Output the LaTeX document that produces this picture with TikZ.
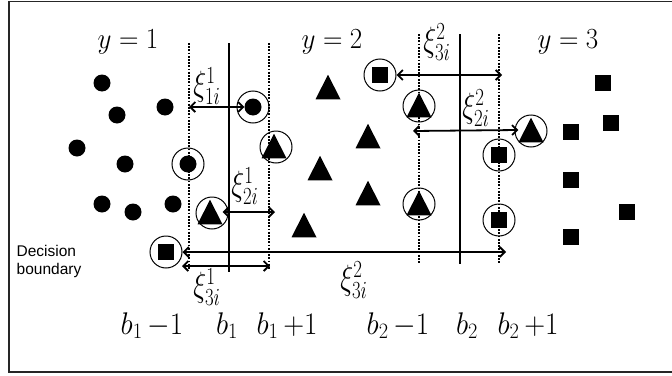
\RequirePackage{fix-cm}
\documentclass[tikz,border=0pt]{standalone}
\usepackage{fontspec}
\newfontfamily\labelsans{Liberation Sans}
\usetikzlibrary{arrows.meta}
\tikzset{
  dot/.style={circle, fill, inner sep=0, minimum size=17},
  sq/.style={rectangle, fill, inner sep=0, minimum size=16.5},
  tri/.style={rectangle, inner sep=0, minimum width=25, minimum height=24.5,
    path picture={\fill (path picture bounding box.south west) -- (path picture bounding box.south east) -- (path picture bounding box.north) -- cycle;}},
  ring/.style={circle, draw, line width=1, inner sep=0, minimum size=32},
  dotl/.style={line width=2.4, dash pattern=on 1.8pt off 1.4pt},
  soll/.style={line width=2},
  dbl/.style={line width=1.8, {Straight Barb[length=5pt,width=10pt]}-{Straight Barb[length=5pt,width=10pt]}},
  ylab/.style={font=\fontsize{27}{31}\selectfont, inner sep=0, anchor=base, yscale=1.08},
  blab/.style={font=\fontsize{29}{33}\selectfont, inner sep=0, anchor=base, yscale=1.08},
  xlab/.style={font=\fontsize{27}{31}\selectfont, inner sep=0, yscale=1.3},
}
\begin{document}
\begin{tikzpicture}[x=1pt,y=-1pt]
\useasboundingbox (0,0) rectangle (672,375);
\draw[line width=1.5, black!85] (672,1.5) -- (9,1.5) -- (9,372) -- (672,372);

% class labels
\node[ylab] (y1) at (128,48) {$y=1$};
\node[ylab] (y2) at (332,48) {$y=2$};
\node[ylab] (y3) at (568,48) {$y=3$};

% margin lines
\draw[dotl] (189,43) coordinate (p1t) -- (189,270) coordinate (p1b);
\draw[soll] (229,43) coordinate (s1t) -- (229,272) coordinate (s1b);
\draw[dotl] (269,43) coordinate (q1t) -- (269,270) coordinate (q1b);
\draw[dotl] (419,34) coordinate (p2t) -- (419,263) coordinate (p2b);
\draw[soll] (460,34) coordinate (s2t) -- (460,264) coordinate (s2b);
\draw[dotl] (499,34) coordinate (q2t) -- (499,263) coordinate (q2b);

% class 1 points
\node[dot] (d1) at (102,83) {};
\node[dot] (d2) at (117,115) {};
\node[dot] (d3) at (165,107) {};
\node[dot] (d4) at (77,148) {};
\node[dot] (d5) at (125,164) {};
\node[dot] (d6) at (102,204) {};
\node[dot] (d7) at (133,212) {};
\node[dot] (d8) at (173,204) {};
\node[dot] (d9) at (188,164) {};
\node[ring] (rd9) at (188,164) {};
\node[dot] (d10) at (253,107) {};
\node[ring] (rd10) at (253,107) {};

% class 2 points
\node[tri] (t1) at (328,87) {};
\node[tri] (t2) at (368,136) {};
\node[tri] (t3) at (320,168) {};
\node[tri] (t4) at (368,193) {};
\node[tri] (t5) at (304,225) {};
\node[tri] (t6) at (274,146) {};
\node[ring] (rt6) at (276,147) {};
\node[tri] (t7) at (210,212) {};
\node[ring] (rt7) at (212,213) {};
\node[tri] (t8) at (419,105) {};
\node[ring] (rt8) at (419,106) {};
\node[tri] (t9) at (419,203) {};
\node[ring] (rt9) at (419,204) {};
\node[tri] (t10) at (531,130) {};
\node[ring] (rt10) at (531,131) {};

% class 3 points
\node[sq] (q1) at (603,83) {};
\node[sq] (q2) at (611,123) {};
\node[sq] (q3) at (571,132) {};
\node[sq] (q4) at (571,180) {};
\node[sq] (q5) at (627,212) {};
\node[sq] (q6) at (571,237) {};
\node[sq] (q7) at (380,75) {};
\node[ring] (rq7) at (380,75) {};
\node[sq] (q8) at (499,155) {};
\node[ring] (rq8) at (499,155) {};
\node[sq] (q9) at (499,220) {};
\node[ring] (rq9) at (499,220) {};
\node[sq] (q10) at (166,252) {};
\node[ring] (rq10) at (166,252) {};

% slack arrows
\draw[dbl] (p1t |- d10) -- (d10.west);
\draw[dbl] (t7.east) -- (275,212) coordinate (e2);
\coordinate (e3a) at (182,266);
\draw[dbl] (e3a) -- (270,266) coordinate (e3b);
\draw[dbl] (rq10.east) -- (506,252) coordinate (e4);
\draw[dbl] (rq7.east) -- (502,75) coordinate (e5);
\draw[dbl] (413,131) coordinate (e6) -- (t10.west);

% slack labels
\node[xlab] (x11) at (207,86) {$\xi^{1}_{1i}$};
\node[xlab] (x12) at (245,186) {$\xi^{1}_{2i}$};
\node[xlab] (x13) at (207,287) {$\xi^{1}_{3i}$};
\node[xlab] (x23a) at (437,42) {$\xi^{2}_{3i}$};
\node[xlab] (x22) at (476,108) {$\xi^{2}_{2i}$};
\node[xlab] (x23b) at (354,280) {$\xi^{2}_{3i}$};

% decision boundary caption
\node[font=\labelsans\fontsize{15.5}{18}\selectfont, align=left, inner sep=0] (db) at (49,261) {Decision\\boundary};

% bottom labels
\node[blab] (b1m) at (152,334) {$b_1\,{-}1$};
\node[blab] (b1) at (227,334) {$b_1$};
\node[blab] (b1p) at (287,334) {$b_1\,{+}1$};
\node[blab] (b2m) at (398,334) {$b_2\,{-}1$};
\node[blab] (b2) at (467,334) {$b_2$};
\node[blab] (b2p) at (528,334) {$b_2\,{+}1$};
\end{tikzpicture}
\end{document}
